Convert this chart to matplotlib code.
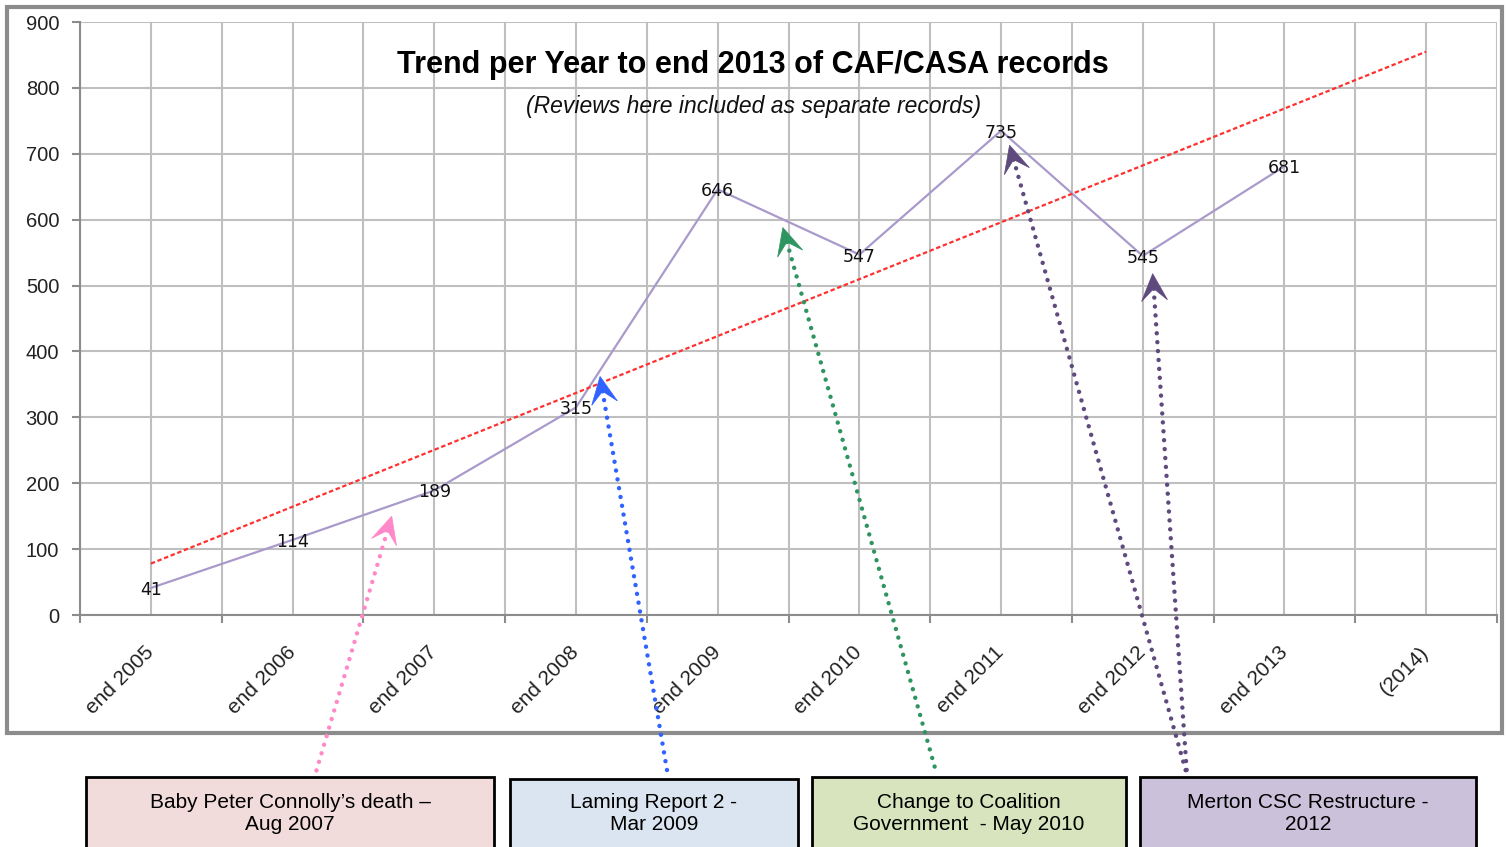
import numpy as np
import matplotlib
matplotlib.use("Agg")
import matplotlib.pyplot as plt
from matplotlib.patches import Rectangle, Polygon
from matplotlib import font_manager

# ---------------- data ----------------
categories = ["end 2005", "end 2006", "end 2007", "end 2008", "end 2009",
              "end 2010", "end 2011", "end 2012", "end 2013", "(2014)"]
records = [41, 114, 189, 315, 646, 547, 735, 545, 681]
trend_ends = [78, 855]          # trend line value at end 2005 and at (2014)
y_ticks = [0, 100, 200, 300, 400, 500, 600, 700, 800, 900]

title = "Trend per Year to end 2013 of CAF/CASA records"
subtitle = "(Reviews here included as separate records)"

events = ["Baby Peter Connolly\u2019s death \u2013\nAug 2007",
          "Laming Report 2 -\nMar 2009",
          "Change to Coalition\nGovernment  - May 2010",
          "Merton CSC Restructure -\n2012"]
event_fill = ["#f2dcdb", "#dbe5f1", "#d7e4bd", "#ccc1da"]
arrow_colors = ["#ff88c8", "#2f62ff", "#2e9460", "#5f4a7e", "#5f4a7e"]
# arrow tips in data coordinates (category index, value)
arrow_tip_x = [1.70, 3.17, 4.46, 6.06, 7.07]
arrow_tip_y = [150, 362, 588, 713, 518]

# ---------------- fonts ----------------
avail = {f.name for f in font_manager.fontManager.ttflist}
narrow = "Liberation Sans Narrow" if "Liberation Sans Narrow" in avail else "Liberation Sans"

W, H = 1507, 847
fig = plt.figure(figsize=(W / 100, H / 100), dpi=100)
fig.patch.set_facecolor("white")

# outer chart frame
fig.add_artist(Rectangle((7 / W, 1 - 733 / H), (1502 - 7) / W, (733 - 7) / H,
                         transform=fig.transFigure, fill=False,
                         edgecolor="#8c8c8c", lw=3, zorder=0))

ax = fig.add_axes([80 / W, 1 - 615 / H, 1417 / W, 593 / H])
ax.set_xlim(-0.5, len(categories) - 0.5)
ax.set_ylim(0, 900)

grid_c = "#bfbfbf"
ax.set_yticks(y_ticks)
ax.set_yticklabels([str(v) for v in y_ticks], family=[narrow, "DejaVu Sans"],
                   fontsize=14.5, color="#222222")
ax.set_xticks(range(len(categories)))
ax.set_xticklabels(categories, rotation=45, ha="right", rotation_mode="anchor",
                   va="center", family=[narrow, "DejaVu Sans"], fontsize=15,
                   color="#222222")
ax.set_xticks(np.arange(-0.5, len(categories), 1.0), minor=True)
ax.tick_params(axis="x", which="major", length=0, pad=25)
ax.tick_params(axis="x", which="minor", length=6, width=1.5, color="#8c8c8c",
               direction="out")
ax.tick_params(axis="y", length=6, width=1.5, color="#8c8c8c", pad=9)
ax.grid(True, which="both", color=grid_c, lw=1.5)
ax.set_axisbelow(True)
for s in ["top", "right"]:
    ax.spines[s].set_visible(False)
for s in ["left", "bottom"]:
    ax.spines[s].set_color("#8c8c8c")
    ax.spines[s].set_linewidth(1.5)

xs = np.arange(len(records))
ax.plot(xs, records, color="#aa9acb", lw=1.6, zorder=3)
ax.plot([0, len(categories) - 1], trend_ends, color="#ff3030",
        lw=1.6, ls=(0, (2, 1.2)), zorder=3)
for x, v in zip(xs, records):
    ax.text(x, v - 3, str(v), ha="center", va="center", fontsize=12.5,
            family="DejaVu Sans", color="#111111", zorder=4)

ax.text(0.475, 0.928, title, transform=ax.transAxes, ha="center", va="center",
        fontsize=22, fontweight="bold", family=[narrow, "DejaVu Sans"], color="black")
ax.text(0.475, 0.858, subtitle, transform=ax.transAxes, ha="center", va="center",
        fontsize=16.5, style="italic", family=[narrow, "DejaVu Sans"], color="#111111")

# ---------------- event boxes ----------------
box_left = [86, 510, 812, 1140]
box_right = [494, 798, 1126, 1476]
box_top = [777, 779, 777, 777]
for i, (t, fc) in enumerate(zip(events, event_fill)):
    x0, x1, y0 = box_left[i], box_right[i], box_top[i]
    fig.add_artist(Rectangle((x0 / W, -10 / H), (x1 - x0) / W, (H - y0 + 10) / H,
                             transform=fig.transFigure, facecolor=fc,
                             edgecolor="black", lw=2, zorder=1))
    fig.text((x0 + x1) / 2 / W, 1 - 813 / H, t, ha="center", va="center",
             fontsize=15, family="Liberation Sans", color="black",
             linespacing=1.2, zorder=2)

# tails of arrows (figure pixels, top of boxes)
tail_px = [(316, 772), (668, 776), (937, 775), (1187, 775), (1187, 775)]

fig.canvas.draw()
for k in range(len(arrow_tip_x)):
    c = arrow_colors[k]
    tip = ax.transData.transform((arrow_tip_x[k], arrow_tip_y[k]))
    tail = np.array([tail_px[k][0], H - tail_px[k][1]], dtype=float)
    d = tail - tip
    L = np.hypot(*d)
    u = d / L
    n = np.array([-u[1], u[0]])
    head_len, head_w, notch = 27, 13, 15
    # dotted shaft
    p0 = tip + u * notch
    line = plt.Line2D([p0[0] / W, tail[0] / W], [p0[1] / H, tail[1] / H],
                      transform=fig.transFigure, color=c, lw=3.2,
                      ls=(0, (0.01, 2.0)), dash_capstyle="round", zorder=5)
    fig.add_artist(line)
    pts = [tip, tip + u * head_len + n * head_w, tip + u * notch,
           tip + u * head_len - n * head_w]
    poly = Polygon([(p[0] / W, p[1] / H) for p in pts], closed=True,
                   transform=fig.transFigure, facecolor=c, edgecolor=c, lw=0.5,
                   zorder=6)
    fig.add_artist(poly)

fig.savefig("out.png", dpi=100, facecolor="white")
